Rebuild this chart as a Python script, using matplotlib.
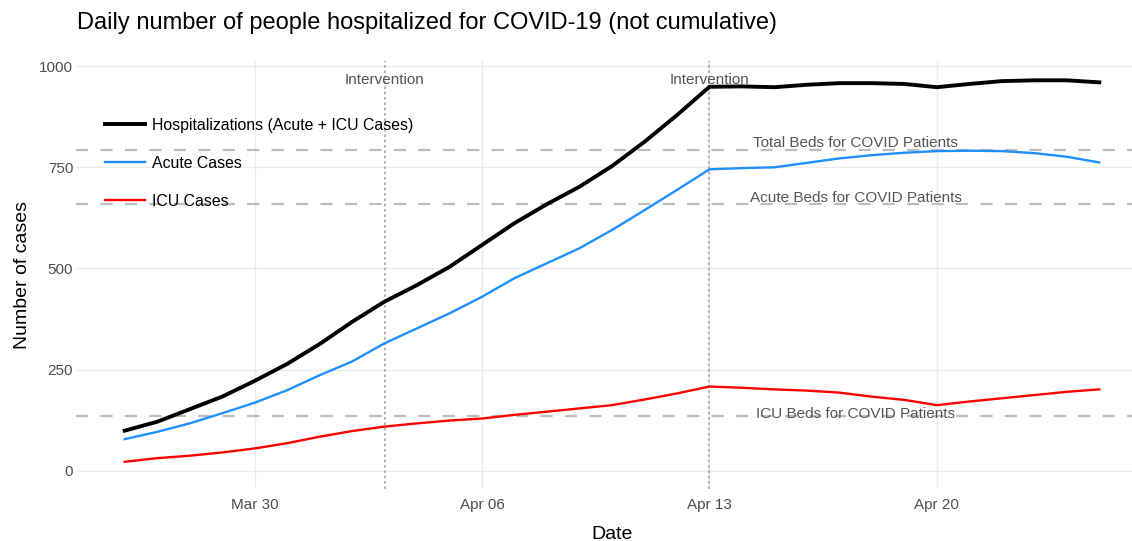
import matplotlib
matplotlib.use("Agg")
import matplotlib.pyplot as plt
import matplotlib.dates as mdates
import pandas as pd

plt.rcParams['font.family'] = ['Liberation Sans', 'DejaVu Sans']

dates = pd.date_range("2020-03-26", "2020-04-25", freq="D")
hospitalizations = [99, 121, 152, 183, 222, 264, 313, 368, 418, 459, 504, 558, 612, 659, 702,
                    753, 813, 879, 949, 950, 948, 954, 958, 958, 956, 948, 956, 963, 965, 965, 960]
acute = [78, 96, 117, 142, 168, 199, 236, 270, 315, 352, 389, 430, 476, 513, 550,
         595, 644, 694, 745, 748, 750, 761, 772, 780, 786, 790, 791, 790, 785, 776, 762]
icu = [22, 31, 37, 45, 55, 68, 84, 98, 109, 117, 124, 129, 138, 146, 154,
       162, 176, 191, 208, 205, 201, 198, 193, 183, 175, 162, 171, 179, 187, 195, 201]

interventions = [pd.Timestamp("2020-04-03"), pd.Timestamp("2020-04-13")]
bed_levels = [793, 660, 135]
bed_labels = ["Total Beds for COVID Patients", "Acute Beds for COVID Patients",
              "ICU Beds for COVID Patients"]
bed_label_y = [811, 675, 140]
bed_label_x = pd.Timestamp("2020-04-17 12:00")

W, H = 1132, 541
fig = plt.figure(figsize=(W / 100, H / 100), dpi=100)
left, right, top, bottom = 76, 1148, 60.5, 489.3
ax = fig.add_axes([left / W, (H - bottom) / H, (right - left) / W, (bottom - top) / H])

for s in ax.spines.values():
    s.set_visible(False)
ax.set_axisbelow(True)
ax.grid(True, color="#ebebeb", linewidth=1.0)
ax.tick_params(length=0, labelsize=11, colors="#4d4d4d")
ax.tick_params(axis="y", pad=2)
ax.tick_params(axis="x", pad=6)

# reference lines
for y in bed_levels:
    ax.axhline(y, color="#bdbdbd", linewidth=1.6, linestyle=(0, (5.5, 5.5)), zorder=1)
for d in interventions:
    ax.axvline(d, color="#a8a8a8", linewidth=1.2, linestyle=(0, (1.6, 1.6)), zorder=1)
    ax.text(d, 965, "Intervention", ha="center", va="center", fontsize=11, color="#555555")

ax.plot(dates, hospitalizations, color="black", linewidth=2.8, label="Hospitalizations (Acute + ICU Cases)", zorder=3)
ax.plot(dates, acute, color="#1e90ff", linewidth=1.7, label="Acute Cases", zorder=3)
ax.plot(dates, icu, color="#ff0000", linewidth=1.7, label="ICU Cases", zorder=3)

for lab, yy in zip(bed_labels, bed_label_y):
    ax.text(bed_label_x, yy, lab, ha="center", va="center", fontsize=11, color="#555555", zorder=4)

ax.set_xlim(pd.Timestamp("2020-03-24 12:00"), pd.Timestamp("2020-04-26 12:00"))
ax.set_ylim(-46, 1014)
ax.set_yticks([0, 250, 500, 750, 1000])
ax.xaxis.set_major_locator(mdates.DayLocator(bymonthday=[30, 6, 13, 20]))
ax.xaxis.set_major_formatter(mdates.DateFormatter("%b %d"))

ax.set_xlabel("Date", fontsize=14, color="black", labelpad=10)
ax.set_ylabel("Number of cases", fontsize=14, color="black", labelpad=6)
fig.text(77 / W, 1 - 23 / H, "Daily number of people hospitalized for COVID-19 (not cumulative)",
         fontsize=17, ha="left", va="center", color="black")

leg = ax.legend(loc="upper left", bbox_to_anchor=(105 / W, (H - 118) / H), bbox_transform=fig.transFigure,
                frameon=False, fontsize=11.4, borderpad=0, borderaxespad=0, handlelength=2.5,
                handletextpad=0.45, labelspacing=1.45)

fig.savefig("out.png", dpi=100)
